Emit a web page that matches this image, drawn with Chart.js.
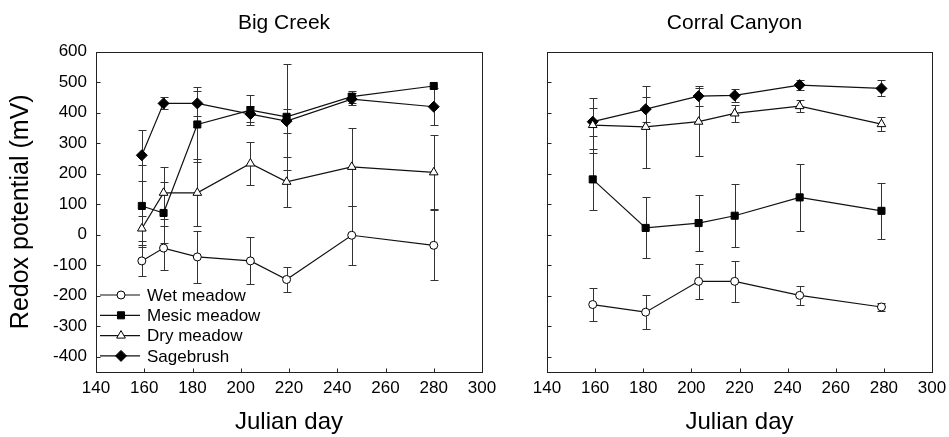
<!DOCTYPE html>
<html><head><meta charset="utf-8">
<script src="https://cdn.jsdelivr.net/npm/chart.js@4.4.0/dist/chart.umd.min.js"></script>
<style>
html,body{margin:0;padding:0;background:#fff;}
#wrap{position:relative;width:949px;height:437px;overflow:hidden;}
#c1{position:absolute;left:0;top:0;}
#c2{position:absolute;left:510px;top:0;}
</style></head><body>
<div id="wrap"><canvas id="c1" width="510" height="437"></canvas><canvas id="c2" width="439" height="437"></canvas></div>
<script>
// ---- data ----
const xTicks = [140,160,180,200,220,240,260,280,300];
const yTicks = [600,500,400,300,200,100,0,-100,-200,-300,-400];
const seriesNames = ['Wet meadow','Mesic meadow','Dry meadow','Sagebrush'];

// Big Creek
const bcDays = [159,168,182,204,219,246,280];
const bcWet = [-86,-44,-73,-86,-147,-2,-35];
const bcWetErr = [51,71,86,77,41,97,115];
const bcMesic = [94,71,361,408,386,452,487];
const bcMesicErr = [134,100,122,49,173,20,0];
const bcDry = [20,137,137,233,173,222,204];
const bcDryErr = [40,85,110,72,82,127,121];
const bcSage = [260,430,430,395,372,444,419];
const bcSageErr = [84,20,40,25,40,20,60];

// Corral Canyon
const ccDays = [159,181,203,218,245,279];
const ccWet = [-229,-254,-153,-153,-199,-237];
const ccWetErr = [55,55,58,67,30,13];
const ccMesic = [181,22,38,62,122,78];
const ccMesicErr = [100,100,91,104,109,92];
const ccDry = [359,353,370,397,421,362];
const ccDryErr = [90,134,112,27,20,23];
const ccSage = [370,411,454,456,490,479];
const ccSageErr = [46,41,34,22,15,26];

// ---- styles ----
const FONT = "'Liberation Sans', Arial, Helvetica, sans-serif";
const styles = [
  {pointStyle:'circle', bg:'#fff', r:4},
  {pointStyle:'rect', bg:'#000', r:5},
  {pointStyle:'triangle', bg:'#fff', r:5},
  {pointStyle:'rectRot', bg:'#000', r:5.5}
];
Chart.defaults.animation = false;
Chart.defaults.font.family = FONT;
Chart.defaults.color = '#000';

function mkDatasets(days, vals, errs){
  return vals.map((v,k)=>({
    label: seriesNames[k],
    data: days.map((d,i)=>({x:d, y:v[i]})),
    errors: errs[k],
    borderColor:'#111', borderWidth:1.2,
    pointStyle: styles[k].pointStyle,
    pointRadius: styles[k].r,
    pointBackgroundColor: styles[k].bg,
    pointBorderColor:'#000', pointBorderWidth:1,
    showLine:true, tension:0
  }));
}

const errorBars = {
  id:'errorBars',
  beforeDatasetsDraw(chart){
    const {ctx, scales:{x,y}} = chart;
    ctx.save(); ctx.strokeStyle='#333'; ctx.lineWidth=1;
    chart.data.datasets.forEach(ds=>{
      ds.data.forEach((p,i)=>{
        const e = ds.errors[i]; if(!e) return;
        const px = Math.round(x.getPixelForValue(p.x))+0.5;
        const y1 = Math.round(y.getPixelForValue(p.y+e))+0.5, y2 = Math.round(y.getPixelForValue(p.y-e))+0.5;
        ctx.beginPath(); ctx.moveTo(px,y1); ctx.lineTo(px,y2);
        ctx.moveTo(px-4,y1); ctx.lineTo(px+4,y1);
        ctx.moveTo(px-4,y2); ctx.lineTo(px+4,y2); ctx.stroke();
      });
    });
    ctx.restore();
  }
};

const frame = {
  id:'frame',
  beforeDatasetsDraw(chart){
    const {ctx, chartArea:a, scales:{x,y}} = chart;
    ctx.save(); ctx.strokeStyle='#222'; ctx.lineWidth=1;
    const L=Math.round(a.left)+0.5, R=Math.round(a.right)+0.5, T=Math.round(a.top)+0.5, B=Math.round(a.bottom)+0.5;
    ctx.strokeRect(L,T,R-L,B-T);
    ctx.beginPath();
    yTicks.forEach(v=>{const py=Math.round(y.getPixelForValue(v))+0.5; ctx.moveTo(L,py); ctx.lineTo(L+4,py);});
    xTicks.forEach(v=>{const px=Math.round(x.getPixelForValue(v))+0.5; ctx.moveTo(px,B); ctx.lineTo(px,B-4);});
    ctx.stroke();
    // panel title
    ctx.fillStyle='#000'; ctx.font = "21px "+FONT; ctx.textAlign='center'; ctx.textBaseline='middle';
    ctx.fillText(chart.options.panelTitle, (a.left+a.right)/2 - 5, 23);
    ctx.restore();
  }
};

const legendIn = {
  id:'legendIn',
  afterDatasetsDraw(chart){
    const {ctx, chartArea:a} = chart;
    ctx.save();
    chart.data.datasets.forEach((ds,k)=>{
      const yy = a.bottom - 77 + k*20.3;
      ctx.strokeStyle='#111'; ctx.lineWidth=1.2;
      ctx.beginPath(); ctx.moveTo(a.left+4,yy); ctx.lineTo(a.left+44,yy); ctx.stroke();
      ctx.fillStyle = styles[k].bg; ctx.strokeStyle='#000'; ctx.lineWidth=1;
      Chart.helpers.drawPoint(ctx,{pointStyle:styles[k].pointStyle, radius:styles[k].r, borderWidth:1, rotation:0}, a.left+25, yy);
      ctx.fillStyle='#000'; ctx.font = "17px "+FONT; ctx.textBaseline='middle'; ctx.textAlign='left';
      ctx.fillText(ds.label, a.left+51, yy+1);
    });
    ctx.restore();
  }
};

function mkOptions(title, showY){
  return {
    responsive:false, devicePixelRatio:1,
    panelTitle: title,
    layout:{padding:{left:0,right: showY?28:17, top:51.5, bottom:0}},
    plugins:{ legend:{display:false}, tooltip:{enabled:false}, title:{display:false} },
    scales:{
      x:{type:'linear', min:140, max:300,
        afterBuildTicks: s=>{ s.ticks = xTicks.map(v=>({value:v})); },
        afterFit: s=>{ s.height = 65; s.paddingLeft = 0; s.paddingRight = 0; },
        grid:{display:false, drawTicks:false}, border:{display:false},
        ticks:{padding:6, font:{size:17}, color:'#000', maxRotation:0},
        title:{display:true, text:'Julian day', font:{size:24}, color:'#000', padding:{top:0,bottom:0}}
      },
      y:{type:'linear', min:-450, max:600,
        afterBuildTicks: s=>{ s.ticks = yTicks.map(v=>({value:v})); },
        afterFit: s=>{ s.width = showY ? 96 : 37; s.paddingTop = 0; s.paddingBottom = 0; },
        grid:{display:false, drawTicks:false}, border:{display:false},
        ticks:{display:showY, padding:9, font:{size:17}, color:'#000'},
        title:{display:showY, text:'Redox potential (mV)', font:{size:25}, color:'#000', padding:{top:6,bottom:0}}
      }
    }
  };
}

new Chart(document.getElementById('c1'), {
  type:'scatter',
  data:{datasets: mkDatasets(bcDays,[bcWet,bcMesic,bcDry,bcSage],[bcWetErr,bcMesicErr,bcDryErr,bcSageErr])},
  options: mkOptions('Big Creek', true),
  plugins:[frame, errorBars, legendIn]
});
new Chart(document.getElementById('c2'), {
  type:'scatter',
  data:{datasets: mkDatasets(ccDays,[ccWet,ccMesic,ccDry,ccSage],[ccWetErr,ccMesicErr,ccDryErr,ccSageErr])},
  options: mkOptions('Corral Canyon', false),
  plugins:[frame, errorBars]
});
</script>
</body></html>
